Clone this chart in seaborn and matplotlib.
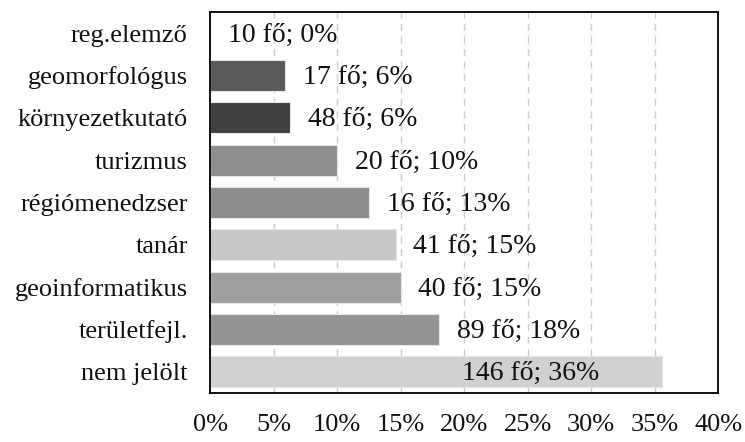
import seaborn as sns
import matplotlib.pyplot as plt
import pandas as pd
from matplotlib.ticker import FuncFormatter

categories = ['reg.elemző', 'geomorfológus', 'környezetkutató', 'turizmus',
              'régiómenedzser', 'tanár', 'geoinformatikus', 'területfejl.',
              'nem jelölt']
percent = [0.0, 5.9, 6.3, 10.0, 12.5, 14.6, 15.0, 18.0, 35.6]
persons = [10, 17, 48, 20, 16, 41, 40, 89, 146]
shown_pct = [0, 6, 6, 10, 13, 15, 15, 18, 36]
colors = ['#ffffff', '#5a5a5a', '#404040', '#8e8e8e', '#8c8c8c',
          '#c8c8c8', '#a0a0a0', '#949494', '#d0d0d0']

df = pd.DataFrame({'kategoria': categories, 'arany': percent})

sns.set_style('white')
plt.rcParams['font.family'] = ['Liberation Serif', 'DejaVu Serif']

fig = plt.figure(figsize=(7.45, 4.42), dpi=100)
ax = fig.add_axes([0.282, 0.111, 0.682, 0.862])

sns.barplot(data=df, x='arany', y='kategoria', hue='kategoria',
            palette=colors, orient='h', width=0.73, legend=False,
            edgecolor='#e6e6e6', linewidth=0.8, ax=ax, zorder=2)

# value labels: right of bar end, the long bar gets its label inside
for i, (v, n, p) in enumerate(zip(percent, persons, shown_pct)):
    ax.text(min(v + 1.4, 19.8), i + 0.05, f'{n} fő; {p}%', va='center', ha='left',
            fontsize=20, color='#111111', zorder=3)

ax.set_xlim(0, 40)
ax.set_ylim(8.5, -0.5)
ax.set_xticks(range(0, 41, 5))
ax.xaxis.set_major_formatter(FuncFormatter(lambda x, _: f'{x:.0f}%'))
ax.set_xlabel('')
ax.set_ylabel('')
ax.xaxis.grid(True, linestyle=(0, (5, 4)), color='#cfcfcf', linewidth=1, zorder=0)
ax.set_axisbelow(True)

for s in ax.spines.values():
    s.set_color('black')
    s.set_linewidth(1.3)
ax.tick_params(axis='x', direction='out', length=8, width=1.3, color='black',
               labelsize=19, pad=7, labelcolor='#111111')
ax.tick_params(axis='y', length=0, labelsize=19, pad=16, labelcolor='#111111')

fig.savefig('out.png', dpi=100)
